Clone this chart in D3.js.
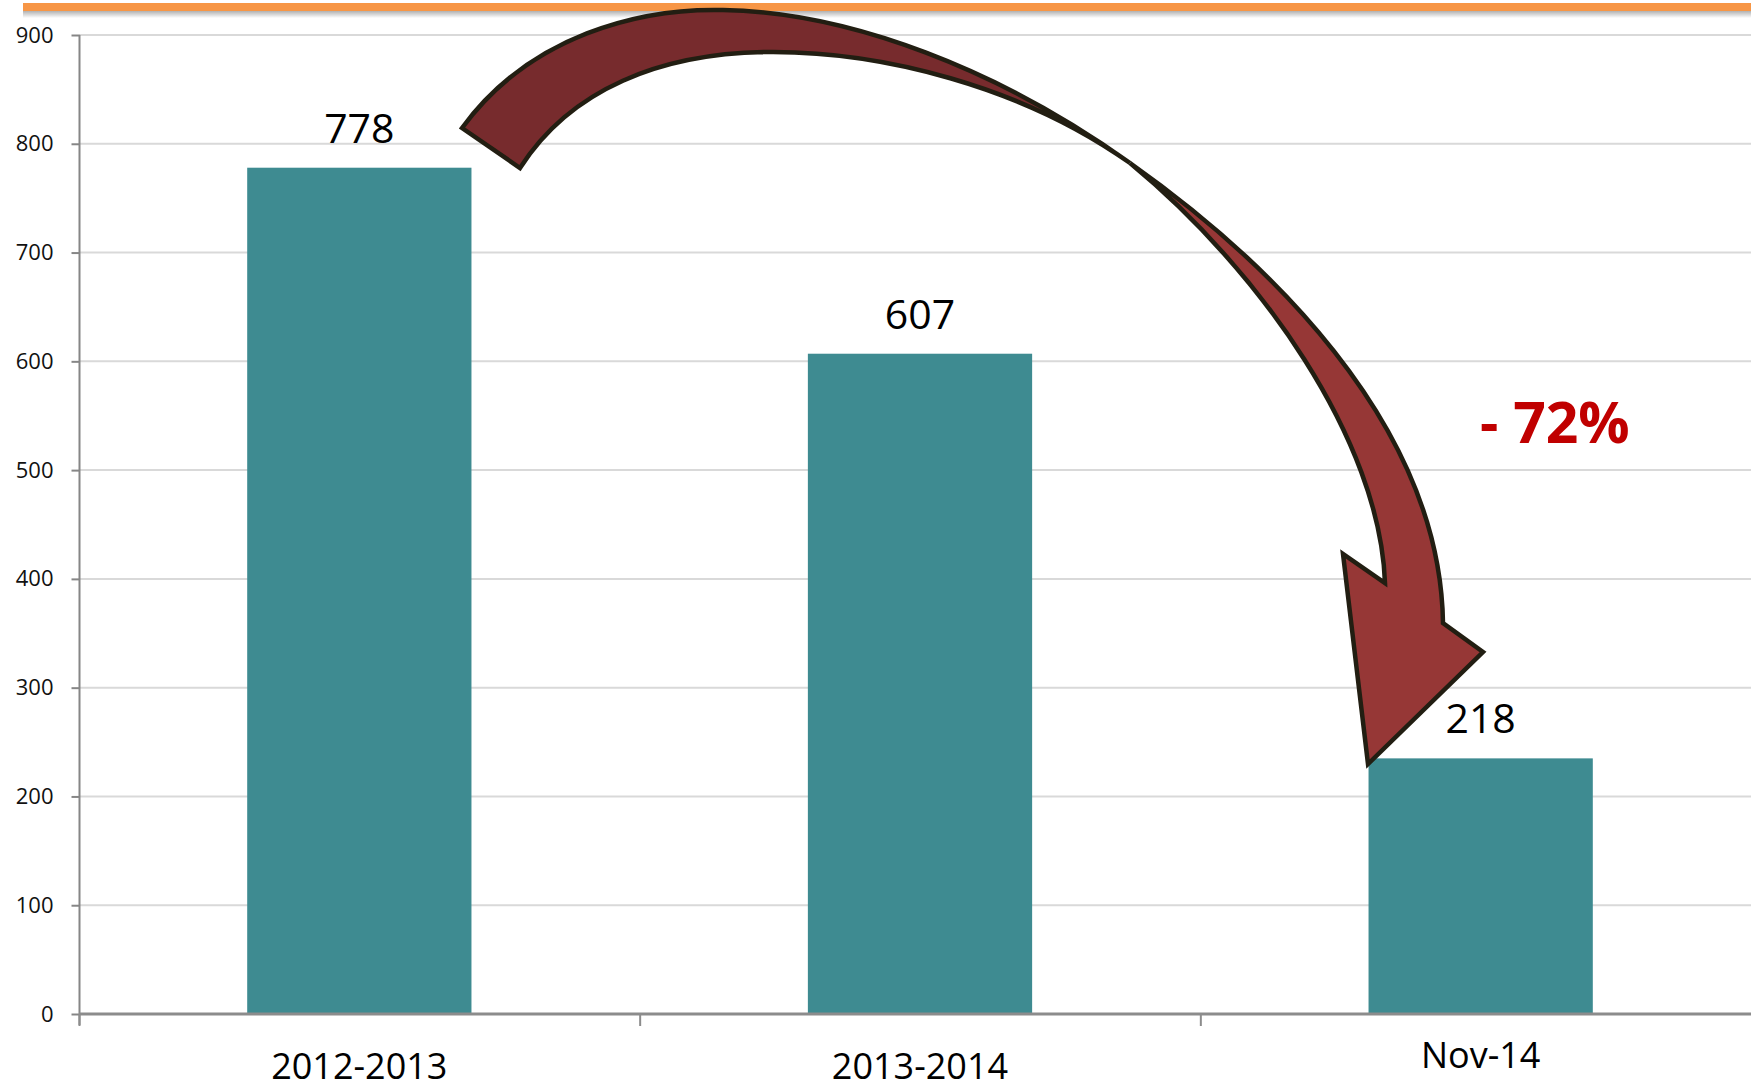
<!DOCTYPE html>
<html>
<head>
<meta charset="utf-8">
<script src="https://cdn.jsdelivr.net/npm/d3@7.9.0/dist/d3.min.js"></script>
<style>
    html, body { margin: 0; padding: 0; background: #fff; }
    svg { display: block; font-family: 'Open Sans', 'Noto Sans', sans-serif; }
</style>
</head>
<body>
<svg id="chart" width="1751" height="1088"></svg>
<script>
// data
var CATEGORIES = ['2012-2013', '2013-2014', 'Nov-14']
var VALUES = [778, 607, 235]
var VALUE_LABELS = ['778', '607', '218']
var Y_TICKS = [0, 100, 200, 300, 400, 500, 600, 700, 800, 900]
var CHANGE_LABEL = '- 72%'

// curved arrow annotation (pixels): cubic segments [start, c1, c2, end]
var ARC_OUTER = [[462, 128], [530, 35], [640, 8], [723, 10], [850, 12], [1000, 70], [1130, 163]]
var ARC_INNER = [[1130, 163], [1020, 85], [880, 52], [773, 52], [660, 52], [570, 90], [520, 168]]
var SHAFT_RIGHT = [[1130, 163], [1260, 255], [1440, 420], [1443, 623]]
var HEAD = [[1483, 652], [1368, 764], [1343, 554], [1385, 583]]
var SHAFT_LEFT = [[1385, 583], [1380, 440], [1260, 270], [1130, 163]]

;(function () {
    var W = 1751
    var svg = d3.select('#chart')

    var x = d3.scaleBand().domain(CATEGORIES).range([79, 1761]).paddingInner(0.6).paddingOuter(0.3)
    var y = d3.scaleLinear().domain([0, 900]).range([1014, 35])
    var step = x.step()

    // orange top rule + soft shadow
    var defs = svg.append('defs')
    var grad = defs.append('linearGradient').attr('id', 'shadow').attr('x1', 0).attr('y1', 0).attr('x2', 0).attr('y2', 1)
    grad.append('stop').attr('offset', 0).attr('stop-color', '#000').attr('stop-opacity', 0.35)
    grad.append('stop').attr('offset', 1).attr('stop-color', '#000').attr('stop-opacity', 0)
    svg.append('rect').attr('x', 23).attr('y', 10).attr('width', W - 23).attr('height', 8).attr('fill', 'url(#shadow)')
    svg.append('rect').attr('x', 23).attr('y', 3).attr('width', W - 23).attr('height', 8).attr('fill', '#f79646')

    // gridlines
    svg.append('g')
        .selectAll('line')
        .data(Y_TICKS.filter(function (t) { return t > 0 }))
        .join('line')
        .attr('x1', 79).attr('x2', W)
        .attr('y1', function (d) { return y(d) }).attr('y2', function (d) { return y(d) })
        .attr('stroke', '#d9d9d9').attr('stroke-width', 2)

    // y axis
    var yAxis = svg.append('g')
        .attr('transform', 'translate(79.5,0)')
        .call(d3.axisLeft(y).tickValues(Y_TICKS).tickSize(8).tickPadding(18).tickFormat(d3.format('d')))
    yAxis.select('.domain').attr('stroke', '#868686').attr('stroke-width', 2)
        .attr('d', 'M0,' + y(900) + 'V' + (y(0) + 11))
    yAxis.selectAll('.tick line').attr('stroke', '#868686').attr('stroke-width', 2)
    yAxis.selectAll('.tick text')
        .attr('fill', '#111').attr('font-size', 22)
        .attr('font-family', "'Open Sans', sans-serif")

    // bars
    svg.append('g')
        .selectAll('rect')
        .data(VALUES)
        .join('rect')
        .attr('x', function (d, i) { return x(CATEGORIES[i]) })
        .attr('width', x.bandwidth())
        .attr('y', function (d) { return y(d) })
        .attr('height', function (d) { return y(0) - y(d) })
        .attr('fill', '#3e8b91')

    // x axis line + boundary ticks
    svg.append('line')
        .attr('x1', 79).attr('x2', W).attr('y1', y(0)).attr('y2', y(0))
        .attr('stroke', '#8c8c8c').attr('stroke-width', 3)
    svg.append('g')
        .selectAll('line')
        .data(d3.range(CATEGORIES.length + 1))
        .join('line')
        .attr('x1', function (i) { return 79.5 + i * step })
        .attr('x2', function (i) { return 79.5 + i * step })
        .attr('y1', y(0)).attr('y2', y(0) + 12)
        .attr('stroke', '#8c8c8c').attr('stroke-width', 2)

    // category labels
    var labelDy = [0, 0, -11]
    svg.append('g')
        .selectAll('text')
        .data(CATEGORIES)
        .join('text')
        .attr('x', function (d) { return x(d) + x.bandwidth() / 2 })
        .attr('y', function (d, i) { return y(0) + 65 + labelDy[i] })
        .attr('text-anchor', 'middle')
        .attr('font-size', 36)
        .attr('fill', '#000')
        .text(function (d) { return d })

    // value labels
    svg.append('g')
        .selectAll('text')
        .data(VALUES)
        .join('text')
        .attr('x', function (d, i) { return x(CATEGORIES[i]) + x.bandwidth() / 2 })
        .attr('y', function (d) { return y(d) - 25 })
        .attr('text-anchor', 'middle')
        .attr('font-size', 41)
        .attr('fill', '#000')
        .text(function (d, i) { return VALUE_LABELS[i] })

    // curved arrow
    function cubic(pts) {
        var p = d3.path()
        for (var i = 1; i + 2 < pts.length; i += 3) {
            p.bezierCurveTo(pts[i][0], pts[i][1], pts[i + 1][0], pts[i + 1][1], pts[i + 2][0], pts[i + 2][1])
        }
        return p.toString()
    }
    function start(pts) { return 'M' + pts[0].join(',') }

    var back = start(ARC_OUTER) + cubic(ARC_OUTER) + cubic(ARC_INNER) + 'Z'
    var front = start(SHAFT_RIGHT) + cubic(SHAFT_RIGHT) +
        HEAD.map(function (p) { return 'L' + p.join(',') }).join('') +
        cubic(SHAFT_LEFT) + 'Z'

    var arrow = svg.append('g')
        .attr('stroke', '#221e12').attr('stroke-width', 4.5).attr('stroke-linejoin', 'miter')
    arrow.append('path').attr('d', back).attr('fill', '#772b2d')
    arrow.append('path').attr('d', front).attr('fill', '#963736')

    svg.append('text')
        .attr('x', 1480).attr('y', 443)
        .attr('font-size', 57).attr('font-weight', 'bold')
        .attr('fill', '#c00000')
        .text(CHANGE_LABEL)
})()
</script>
</body>
</html>
